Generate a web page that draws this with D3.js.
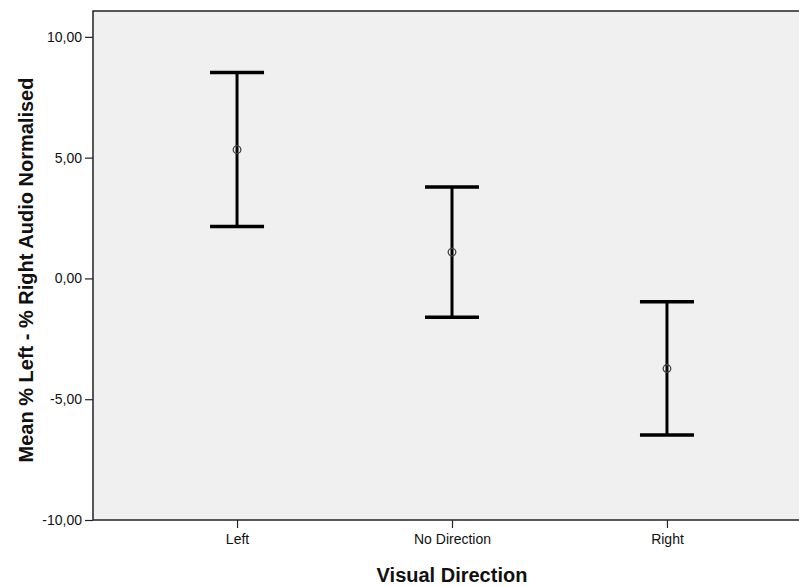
<!DOCTYPE html>
<html>
<head>
<meta charset="utf-8">
<script src="https://cdn.jsdelivr.net/npm/d3@7"></script>
<style>
  body { margin: 0; background: #fff; }
  svg { display: block; font-family: 'Liberation Sans', Arial, sans-serif; }
</style>
</head>
<body>
<div id="chart"><svg></svg></div>
<script>
// data
const categories = ['Left', 'No Direction', 'Right'];
const means = [5.33, 1.09, -3.73];
const upper = [8.52, 3.78, -0.97];
const lower = [2.15, -1.61, -6.48];
const yTicks = [-10, -5, 0, 5, 10];

const width = 799, height = 587;
const plot = {left: 93, right: 811, top: 11, bottom: 520};

const svg = d3.select('svg')
  .attr('width', width)
  .attr('height', height);

const x = d3.scalePoint()
  .domain(categories)
  .range([plot.left, plot.right])
  .padding(0.67);

const y = d3.scaleLinear()
  .domain([-10, 11.07])
  .range([plot.bottom, plot.top]);

// plot background
svg.append('rect')
  .attr('x', plot.left)
  .attr('y', plot.top)
  .attr('width', plot.right - plot.left)
  .attr('height', plot.bottom - plot.top)
  .attr('fill', '#f0f0f0')
  .attr('stroke', '#222')
  .attr('stroke-width', 1.5);

// y axis
const yAxis = svg.append('g')
  .attr('transform', 'translate(' + plot.left + ',0)')
  .call(d3.axisLeft(y).tickValues(yTicks).tickSize(8).tickPadding(3)
    .tickFormat(d => d3.format('.2f')(d).replace('.', ',').replace('−', '-')));
yAxis.select('.domain').remove();
yAxis.selectAll('line').attr('stroke', '#222').attr('stroke-width', 1.2);
yAxis.selectAll('text').attr('font-size', 14).attr('fill', '#111')
  .attr('font-family', "'Liberation Sans', Arial, sans-serif");

// x axis
const xAxis = svg.append('g')
  .attr('transform', 'translate(0,' + plot.bottom + ')')
  .call(d3.axisBottom(x).tickSize(8).tickPadding(6));
xAxis.select('.domain').remove();
xAxis.selectAll('line').attr('stroke', '#222').attr('stroke-width', 1.2);
xAxis.selectAll('text').attr('font-size', 14).attr('fill', '#111')
  .attr('font-family', "'Liberation Sans', Arial, sans-serif");

// error bars
const rows = categories.map((c, i) => ({c: c, m: means[i], hi: upper[i], lo: lower[i]}));
const bars = svg.append('g');
bars.selectAll('.stem').data(rows).join('line')
  .attr('x1', d => x(d.c)).attr('x2', d => x(d.c))
  .attr('y1', d => y(d.hi)).attr('y2', d => y(d.lo))
  .attr('stroke', '#000').attr('stroke-width', 3);
bars.selectAll('.capHi').data(rows).join('line')
  .attr('x1', d => x(d.c) - 27).attr('x2', d => x(d.c) + 27)
  .attr('y1', d => y(d.hi)).attr('y2', d => y(d.hi))
  .attr('stroke', '#000').attr('stroke-width', 3.5);
bars.selectAll('.capLo').data(rows).join('line')
  .attr('x1', d => x(d.c) - 27).attr('x2', d => x(d.c) + 27)
  .attr('y1', d => y(d.lo)).attr('y2', d => y(d.lo))
  .attr('stroke', '#000').attr('stroke-width', 3.5);
bars.selectAll('circle').data(rows).join('circle')
  .attr('cx', d => x(d.c)).attr('cy', d => y(d.m))
  .attr('r', 3.8)
  .attr('fill', 'none')
  .attr('stroke', '#444')
  .attr('stroke-width', 1.3);

// axis titles
svg.append('text')
  .attr('x', 452).attr('y', 582)
  .attr('text-anchor', 'middle')
  .attr('font-size', 20).attr('font-weight', 'bold').attr('fill', '#111')
  .text('Visual Direction');

svg.append('text')
  .attr('transform', 'translate(33,270) rotate(-90)')
  .attr('text-anchor', 'middle')
  .attr('font-size', 20).attr('font-weight', 'bold').attr('fill', '#111')
  .text('Mean % Left - % Right Audio Normalised');
</script>
</body>
</html>
